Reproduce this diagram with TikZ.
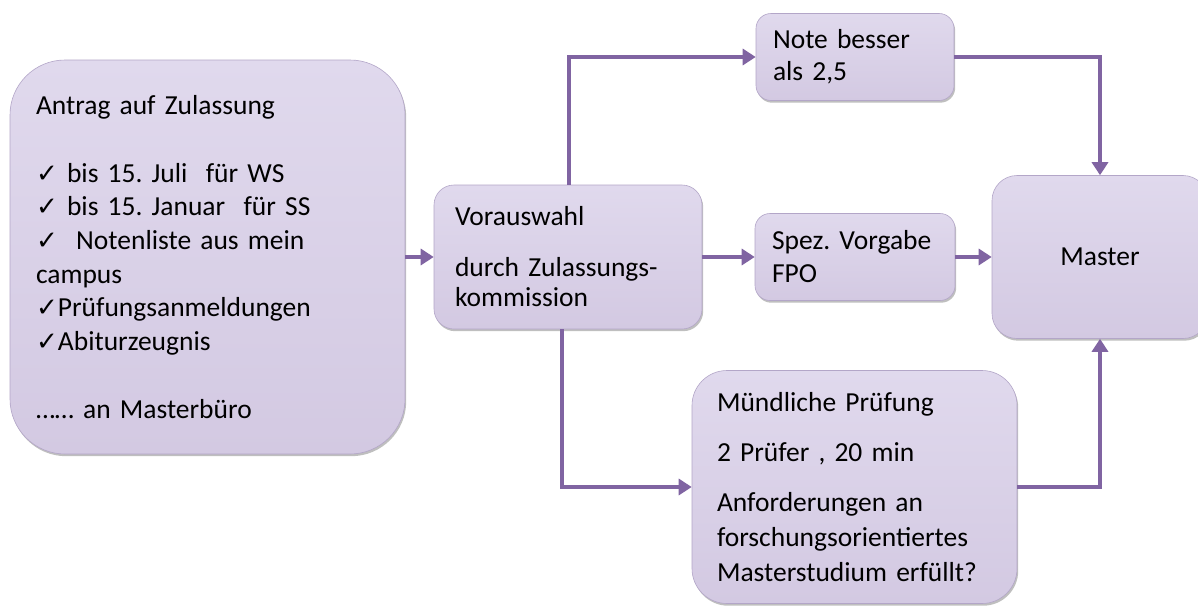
\documentclass[tikz,border=0pt]{standalone}
\usepackage{fontspec}
\setmainfont{Carlito}
\newfontfamily\sym[Scale=0.95]{DejaVu Sans}
\usetikzlibrary{arrows.meta,shadows}
\definecolor{linec}{HTML}{8064A2}
\definecolor{boxtop}{HTML}{E0D9ED}
\definecolor{boxbot}{HTML}{D3C9E2}
\definecolor{boxedge}{HTML}{B3A6C8}
\newcommand{\chk}{{\sym ✓}}
\tikzset{
  pbox/.style={rectangle, rounded corners=#1, draw=boxedge, line width=0.6pt,
    top color=boxtop, bottom color=boxbot,
    drop shadow={shadow xshift=1.2pt, shadow yshift=-2.2pt, opacity=0.45, fill=black!55},
    inner ysep=0pt, text=black, align=left},
  conn/.style={draw=linec, line width=4pt, -{Triangle[length=13pt,width=16pt]}},
}
\begin{document}
\frenchspacing
\begin{tikzpicture}[x=1pt,y=-1pt]
\useasboundingbox (0,0) rectangle (1198,605);
\fill[white] (0,0) rectangle (1198,605);

\node[pbox=55pt, minimum width=395pt, minimum height=394pt, text width=343pt, inner xsep=26pt,
  font=\fontsize{27.5pt}{33.7pt}\selectfont] (antrag) at (207.5,257)
  {Antrag auf Zulassung\\[33.7pt]
   \chk\ bis 15. Juli\ \ für WS\\
   \chk\ bis 15. Januar\ \ für SS\\
   \chk\ \ Notenliste aus mein\\
   campus\\
   \chk Prüfungsanmeldungen\\
   \chk Abiturzeugnis\\[33.7pt]
   …… an Masterbüro};

\node[pbox=20pt, minimum width=268pt, minimum height=144pt, text width=226pt, inner xsep=21pt,
  font=\fontsize{27.5pt}{30pt}\selectfont] (vor) at (568,257)
  {Vorauswahl\\[21pt]
   durch Zulassungs-\\
   kommission};

\node[pbox=15pt, minimum width=198pt, minimum height=87pt, text width=164pt, inner xsep=17pt,
  font=\fontsize{27.5pt}{32pt}\selectfont] (note) at (855,57)
  {Note besser\\ als 2,5};

\node[pbox=15pt, minimum width=200pt, minimum height=87pt, text width=166pt, inner xsep=17pt,
  font=\fontsize{27.5pt}{33pt}\selectfont] (spez) at (855,257)
  {Spez. Vorgabe\\ FPO};

\node[pbox=25pt, minimum width=216pt, minimum height=163pt, align=center,
  font=\fontsize{27.5pt}{32pt}\selectfont] (master) at (1100,257)
  {Master};

\node[pbox=35pt, minimum width=325pt, minimum height=233pt, text width=275pt, inner xsep=25pt,
  font=\fontsize{27.5pt}{35pt}\selectfont] (mund) at (854.5,487)
  {Mündliche Prüfung\\[15pt]
   2 Prüfer , 20 min\\[15pt]
   Anforderungen an\\
   forschungsorientiertes\\
   Masterstudium erfüllt?};

\draw[conn] (antrag.east) -- (vor.west);
\draw[conn] ([xshift=1pt]vor.north) |- (note.west);
\draw[conn] (note.east) -| (master.north);
\draw[conn] (vor.east) -- (spez.west);
\draw[conn] (spez.east) -- (master.west);
\draw[conn] ([xshift=-6pt]vor.south) |- (mund.west);
\draw[conn] (mund.east) -| (master.south);
\end{tikzpicture}
\end{document}
